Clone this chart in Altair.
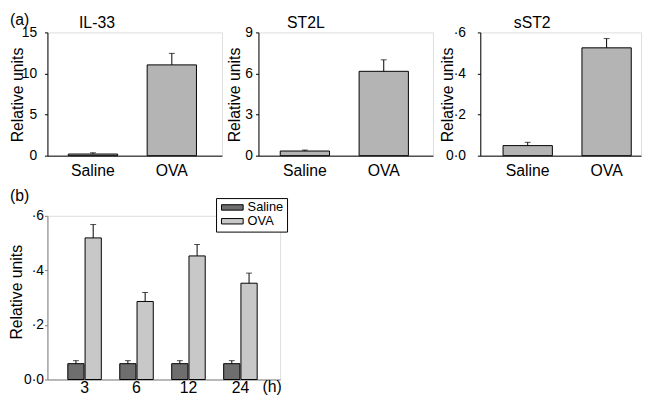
import altair as alt
import pandas as pd

FONT = "Liberation Sans"

# ---------------- data ----------------
conditions = ["Saline", "OVA"]

il33_vals = [0.2, 11.05]
il33_errs = [0.15, 1.4]

st2l_vals = [0.34, 6.16]
st2l_errs = [0.07, 0.84]

sst2_vals = [0.049, 0.525]
sst2_errs = [0.016, 0.045]

hours = ["3", "6", "12", "24"]
saline_b = [0.058, 0.058, 0.058, 0.058]
saline_b_err = [0.011, 0.011, 0.011, 0.011]
ova_b = [0.519, 0.286, 0.453, 0.353]
ova_b_err = [0.049, 0.033, 0.042, 0.037]

panel_titles = ["IL-33", "ST2L", "sST2"]
panel_letters = ["(a)", "(b)"]
unit_label = "(h)"
y_title = "Relative units"

il33_ticks = [0, 5, 10, 15]
st2l_ticks = [0, 3, 6, 9]
frac_ticks = [0, 0.2, 0.4, 0.6]

FRAC_EXPR = "datum.value == 0 ? '0·0' : '·' + format(datum.value * 10, 'd')"

H_A = 125


def text_layer(txt, xpos, ypos, baseline="top", align="left"):
    return alt.Chart(pd.DataFrame({"t": [txt]})).mark_text(
        font=FONT, fontSize=16, align=align, baseline=baseline, color="#000"
    ).encode(x=alt.value(xpos), y=alt.value(ypos), text="t:N")


def panel_a(idx, vals, errs, ymax, ticks, label_expr, label_pad, title_x, width,
            align, pouter, title_dx, letter=None):
    df = pd.DataFrame({
        "cond": conditions,
        "v": vals,
        "hi": [v + e for v, e in zip(vals, errs)],
    })
    base = alt.Chart(df)
    x = alt.X("cond:N", sort=conditions,
              scale=alt.Scale(paddingInner=0.375, paddingOuter=pouter, align=align),
              axis=alt.Axis(title=None, ticks=False, labelAngle=0, labelFontSize=16,
                            labelPadding=7, labelFont=FONT, labelColor="#000",
                            domainColor="#000", domainWidth=1))
    y = alt.Y("v:Q", scale=alt.Scale(domain=[0, ymax], nice=False, zero=True),
              axis=alt.Axis(values=ticks, labelExpr=label_expr, title=y_title,
                            grid=False, tickSize=3, tickColor="#000",
                            labelPadding=label_pad, labelFontSize=14, labelFont=FONT,
                            labelColor="#000", domainColor="#000",
                            titleFont=FONT, titleFontSize=16, titleFontWeight="normal",
                            titleColor="#000", titleX=title_x, titleY=63,
                            titleAngle=270, titleAlign="center",
                            titleBaseline="alphabetic"))
    bars = base.mark_bar(fill="#b4b4b4", stroke="#000", strokeWidth=1).encode(x=x, y=y)
    err = base.mark_rule(color="#000", strokeWidth=1).encode(
        x=alt.X("cond:N", sort=conditions), y="v:Q", y2="hi:Q")
    cap = base.mark_tick(color="#000", size=6, thickness=1, orient="horizontal").encode(
        x=alt.X("cond:N", sort=conditions), y="hi:Q")
    layers = [bars, err, cap, text_layer(panel_titles[idx], title_dx, -4, "alphabetic")]
    if letter is not None:
        layers.append(text_layer(letter, -38, -21))
    return alt.layer(*layers).properties(width=width, height=H_A)


p1 = panel_a(0, il33_vals, il33_errs, 15, il33_ticks, "format(datum.value, 'd')",
             8, -25, 177, 0.45, 0.294, 32, letter=panel_letters[0])
p2 = panel_a(1, st2l_vals, st2l_errs, 9, st2l_ticks, "format(datum.value, 'd')",
             3, -19, 177, 0.47, 0.294, 29)
p3 = panel_a(2, sst2_vals, sst2_errs, 0.6, frac_ticks, FRAC_EXPR,
             12, -28, 163, 0.70, 0.206, 34)

# ---------------- panel b ----------------
W_B = 236
H_B = 166
rows = []
for h, s, se, o, oe in zip(hours, saline_b, saline_b_err, ova_b, ova_b_err):
    rows.append({"hour": h, "cond": "Saline", "v": s, "hi": s + se})
    rows.append({"hour": h, "cond": "OVA", "v": o, "hi": o + oe})
dfb = pd.DataFrame(rows)
baseb = alt.Chart(dfb)

xb = alt.X("hour:N", sort=hours,
           scale=alt.Scale(paddingInner=0.355, paddingOuter=0.417, align=0.47),
           axis=alt.Axis(title=None, ticks=False, labelAngle=0, labelFontSize=16,
                         labelPadding=0, labelFont=FONT, labelColor="#000",
                         domainColor="#808080", domainWidth=1))
xo = alt.XOffset("cond:N", sort=conditions, scale=alt.Scale(paddingInner=0.06))
yb = alt.Y("v:Q", scale=alt.Scale(domain=[0, 0.6], nice=False),
           axis=alt.Axis(values=frac_ticks, labelExpr=FRAC_EXPR, title=y_title,
                         grid=False, tickSize=3, tickColor="#808080",
                         labelPadding=1, labelFontSize=14, labelFont=FONT,
                         labelColor="#000", domainColor="#808080",
                         titleFont=FONT, titleFontSize=16, titleFontWeight="normal",
                         titleColor="#000", titleX=-26, titleY=77,
                         titleAngle=270, titleAlign="center",
                         titleBaseline="alphabetic"))
colb = alt.Color("cond:N", sort=conditions,
                 scale=alt.Scale(domain=conditions, range=["#6e6e6e", "#c8c8c8"]),
                 legend=alt.Legend(title=None, orient="none", legendX=171, legendY=-18,
                                   symbolType="M-2,-0.5L2,-0.5L2,0.5L-2,0.5Z",
                                   symbolSize=121, symbolStrokeColor="#000",
                                   symbolStrokeWidth=1, symbolOpacity=1,
                                   symbolOffset=7,
                                   labelFont=FONT, labelFontSize=13, labelColor="#000",
                                   labelOffset=9, rowPadding=0, padding=3,
                                   strokeColor="#000", fillColor="#fff"))

bars_b = baseb.mark_bar(stroke="#000", strokeWidth=1, opacity=1).encode(
    x=xb, xOffset=xo, y=yb, color=colb)
err_b = baseb.mark_rule(color="#000", strokeWidth=1).encode(
    x=alt.X("hour:N", sort=hours), xOffset=xo, y="v:Q", y2="hi:Q")
cap_b = baseb.mark_tick(color="#000", size=6, thickness=1, orient="horizontal").encode(
    x=alt.X("hour:N", sort=hours), xOffset=xo, y="hi:Q")

pb = alt.layer(bars_b, err_b, cap_b,
               text_layer(panel_letters[1], -38, -28),
               text_layer(unit_label, 218, H_B)).properties(width=W_B, height=H_B)

top = alt.hconcat(alt.hconcat(p1, p2, spacing=3), p3, spacing=5)
chart = alt.vconcat(top, pb, spacing=8, padding=0).resolve_legend(
    color="independent").configure_view(stroke=None).configure(background="#ffffff")

chart.save("out.html", embed_options={"renderer": "svg", "actions": False})
